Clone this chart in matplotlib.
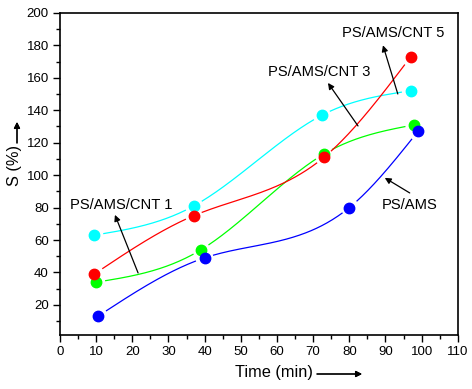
import numpy as np
import matplotlib.pyplot as plt

plt.rcParams['font.family'] = ['Liberation Sans', 'DejaVu Sans']

# data
t_ams = [10.5, 40, 80, 99]
s_ams = [13, 49, 80, 127]
t_cnt1 = [10, 39, 73, 98]
s_cnt1 = [34, 54, 113, 131]
t_cnt3 = [9.5, 37, 72.5, 97]
s_cnt3 = [63, 81, 137, 152]
t_cnt5 = [9.5, 37, 73, 97]
s_cnt5 = [39, 75, 111, 173]

series = [
    (t_cnt3, s_cnt3, '#00FFFF'),
    (t_cnt1, s_cnt1, '#00FF00'),
    (t_ams, s_ams, '#0000FF'),
    (t_cnt5, s_cnt5, '#FF0000'),
]


def natural_spline(x, y, n=300):
    x = np.asarray(x, float)
    y = np.asarray(y, float)
    k = len(x)
    h = np.diff(x)
    A = np.zeros((k, k))
    b = np.zeros(k)
    A[0, 0] = A[-1, -1] = 1
    for i in range(1, k - 1):
        A[i, i - 1] = h[i - 1]
        A[i, i] = 2 * (h[i - 1] + h[i])
        A[i, i + 1] = h[i]
        b[i] = 6 * ((y[i + 1] - y[i]) / h[i] - (y[i] - y[i - 1]) / h[i - 1])
    M = np.linalg.solve(A, b)
    xs = np.linspace(x[0], x[-1], n)
    idx = np.clip(np.searchsorted(x, xs) - 1, 0, k - 2)
    x0, x1 = x[idx], x[idx + 1]
    hh = x1 - x0
    ys = (M[idx] * (x1 - xs) ** 3 / (6 * hh) + M[idx + 1] * (xs - x0) ** 3 / (6 * hh)
          + (y[idx] / hh - M[idx] * hh / 6) * (x1 - xs)
          + (y[idx + 1] / hh - M[idx + 1] * hh / 6) * (xs - x0))
    return xs, ys


fig = plt.figure(figsize=(4.72, 3.89), dpi=100)
ax = fig.add_axes([0.127, 0.139, 0.843, 0.828])
ax.set_xlim(0, 110)
ax.set_ylim(1.5, 200)

for tx, sy, c in series:
    xs, ys = natural_spline(tx, sy)
    # leave a small gap around each marker, as in the original
    pts = ax.transData.transform(np.column_stack([xs, ys]))
    mk = ax.transData.transform(np.column_stack([tx, sy]))
    d = np.min(np.hypot(pts[:, None, 0] - mk[None, :, 0], pts[:, None, 1] - mk[None, :, 1]), axis=1)
    ys = np.where(d < 9, np.nan, ys)
    ax.plot(xs, ys, color=c, lw=0.9)
    ax.plot(tx, sy, 'o', color=c, ms=7.5, mec=c)

ax.set_xticks(np.arange(0, 111, 10))
ax.set_xticks(np.arange(0, 111, 5), minor=True)
ax.set_yticks(np.arange(20, 201, 20))
ax.set_yticks(np.arange(10, 201, 10), minor=True)
ax.tick_params(which='major', direction='out', length=5, width=1, labelsize=9.5, pad=3)
ax.tick_params(which='minor', direction='out', length=3, width=1)
for sp in ax.spines.values():
    sp.set_linewidth(1.2)

arrow = dict(arrowstyle='-|>', color='black', lw=0.9, mutation_scale=9, shrinkA=0, shrinkB=0)
ax.annotate('', xy=(89.3, 180), xytext=(93.4, 150), arrowprops=arrow)
ax.text(92, 187.5, 'PS/AMS/CNT 5', ha='center', va='center', fontsize=10.6)
ax.annotate('', xy=(74.1, 156.8), xytext=(82.4, 130.3), arrowprops=arrow)
ax.text(71.8, 163.6, 'PS/AMS/CNT 3', ha='center', va='center', fontsize=10.6)
ax.annotate('', xy=(15.2, 75.5), xytext=(21.6, 39.7), arrowprops=arrow)
ax.text(16.9, 81.6, 'PS/AMS/CNT 1', ha='center', va='center', fontsize=10.6)
ax.annotate('', xy=(89.8, 98.3), xytext=(96.7, 89.0), arrowprops=arrow)
ax.text(96.7, 81.6, 'PS/AMS', ha='center', va='center', fontsize=10.6)

# axis titles with arrows
fig.text(274 / 472, 1 - 372 / 389, 'Time (min)', ha='center', va='center', fontsize=11.8)
fig.add_artist(plt.annotate('', xy=(362 / 472, 1 - 374 / 389), xytext=(317 / 472, 1 - 374 / 389),
                            xycoords='figure fraction', arrowprops=arrow))
fig.text(15 / 472, 1 - 166 / 389, 'S (%)', ha='center', va='center', fontsize=11.8, rotation=90)
fig.add_artist(plt.annotate('', xy=(17 / 472, 1 - 122 / 389), xytext=(17 / 472, 1 - 143 / 389),
                            xycoords='figure fraction', arrowprops=arrow))

fig.savefig('out.png', dpi=100)
